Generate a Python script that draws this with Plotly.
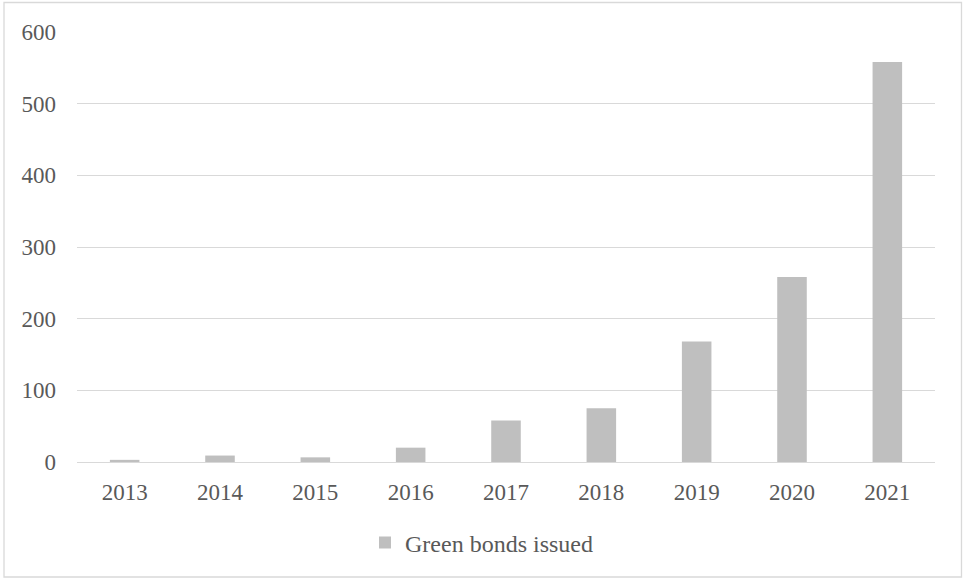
import plotly.graph_objects as go

# Green bond issuance by year
years = ["2013", "2014", "2015", "2016", "2017", "2018", "2019", "2020", "2021"]
issued = [3, 9, 6.5, 20, 58, 75, 168, 258, 558]
y_ticks = [0, 100, 200, 300, 400, 500, 600]

W, H = 963, 579
ML, MR, MT, MB = 77, 28, 32, 117
PW, PH = W - ML - MR, H - MT - MB

font_family = "Liberation Serif, Times New Roman, serif"
text_color = "#595959"
grid_color = "#D9D9D9"

fig = go.Figure()
fig.add_trace(go.Bar(
    x=years, y=issued, name="Green bonds issued",
    marker=dict(color="#BFBFBF", line=dict(width=0)),
    showlegend=True,
))

# outer chart frame, expressed in paper coordinates of the plot area
def px_x(p):
    return (p - ML) / PW

def px_y(p):
    return (H - MB - p) / PH

fig.add_shape(type="rect", xref="paper", yref="paper",
              x0=px_x(4), x1=px_x(961.5), y0=px_y(577), y1=px_y(2.5),
              line=dict(color=grid_color, width=1.3), fillcolor="rgba(0,0,0,0)",
              layer="below")

fig.update_layout(
    width=W, height=H,
    margin=dict(l=ML, r=MR, t=MT, b=MB, pad=0),
    paper_bgcolor="white", plot_bgcolor="white",
    font=dict(family=font_family, size=23, color=text_color),
    bargap=0.69,
    xaxis=dict(showgrid=False, showline=False, ticks="", zeroline=False,
               tickfont=dict(size=23, color=text_color), ticklabelstandoff=14),
    yaxis=dict(range=[0, 600], tickvals=y_ticks, showgrid=True,
               gridcolor=grid_color, gridwidth=1.3, zeroline=True,
               zerolinecolor=grid_color, zerolinewidth=1.3, showline=False,
               ticks="", tickfont=dict(size=23, color=text_color),
               ticklabelstandoff=20),
    legend=dict(orientation="h", x=px_x(365), xanchor="left", y=px_y(543),
                yanchor="middle", font=dict(size=24, color=text_color),
                itemwidth=30, bgcolor="rgba(0,0,0,0)"),
)

fig.write_html("out.html")
